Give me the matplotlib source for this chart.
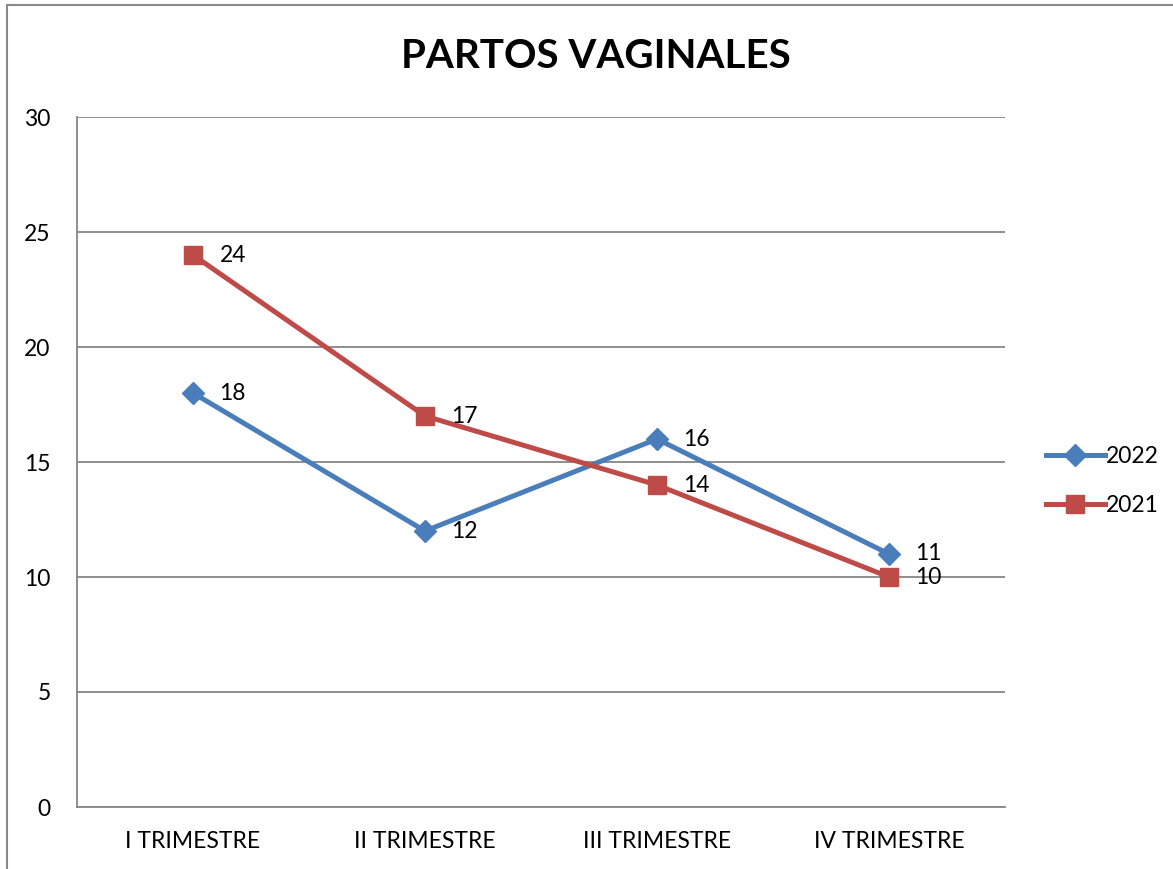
import numpy as np
import matplotlib.pyplot as plt
from matplotlib.patches import Rectangle

categories = ["I TRIMESTRE", "II TRIMESTRE", "III TRIMESTRE", "IV TRIMESTRE"]
series_2022 = [18, 12, 16, 11]
series_2021 = [24, 17, 14, 10]
yticks = [0, 5, 10, 15, 20, 25, 30]

plt.rcParams['font.family'] = ['Lato', 'DejaVu Sans']

fig = plt.figure(figsize=(11.73, 8.69), dpi=100)
fig.patches.append(Rectangle((7/1173, -0.1), 1.2, 1 - 5/869 + 0.1, transform=fig.transFigure,
                             fill=False, edgecolor='#898989', linewidth=1.5))

ax = fig.add_axes([77/1173, 62/869, 928/1173, 690/869])
x = np.arange(len(categories))

blue = '#4A7EBB'
red = '#BE4B48'
l1, = ax.plot(x, series_2022, color=blue, linewidth=3.6, marker='D', markersize=11,
              label='2022', zorder=3)
l2, = ax.plot(x, series_2021, color=red, linewidth=3.6, marker='s', markersize=13,
              label='2021', zorder=3)

fs = 16.5
for xi, v in zip(x, series_2022):
    ax.annotate(str(v), (xi, v), xytext=(19, 0), textcoords='offset points',
                va='center', ha='left', fontsize=fs)
for xi, v in zip(x, series_2021):
    ax.annotate(str(v), (xi, v), xytext=(19, 0), textcoords='offset points',
                va='center', ha='left', fontsize=fs)

ax.set_xlim(-0.5, 3.5)
ax.set_ylim(0, 30)
ax.set_yticks(yticks)
ax.set_xticks(x)
ax.set_xticklabels(categories)
ax.tick_params(axis='both', length=0, labelsize=fs)
ax.tick_params(axis='y', pad=19)
ax.tick_params(axis='x', pad=17)
ax.grid(axis='y', color='#868686', linewidth=1.3)
ax.set_axisbelow(True)
for s in ['top', 'right']:
    ax.spines[s].set_visible(False)
for s in ['left', 'bottom']:
    ax.spines[s].set_color('#868686')
    ax.spines[s].set_linewidth(1.3)

fig.text(596/1173, 1 - 57/869, 'PARTOS VAGINALES', ha='center', va='center',
         fontsize=29, fontweight='bold')

fig.legend(handles=[l1, l2], loc='center left', bbox_to_anchor=(1025/1173, 1 - 481/869),
           frameon=False, fontsize=fs, handlelength=2.6, labelspacing=1.25,
           handletextpad=0.05)

fig.savefig('out.png', dpi=100)
